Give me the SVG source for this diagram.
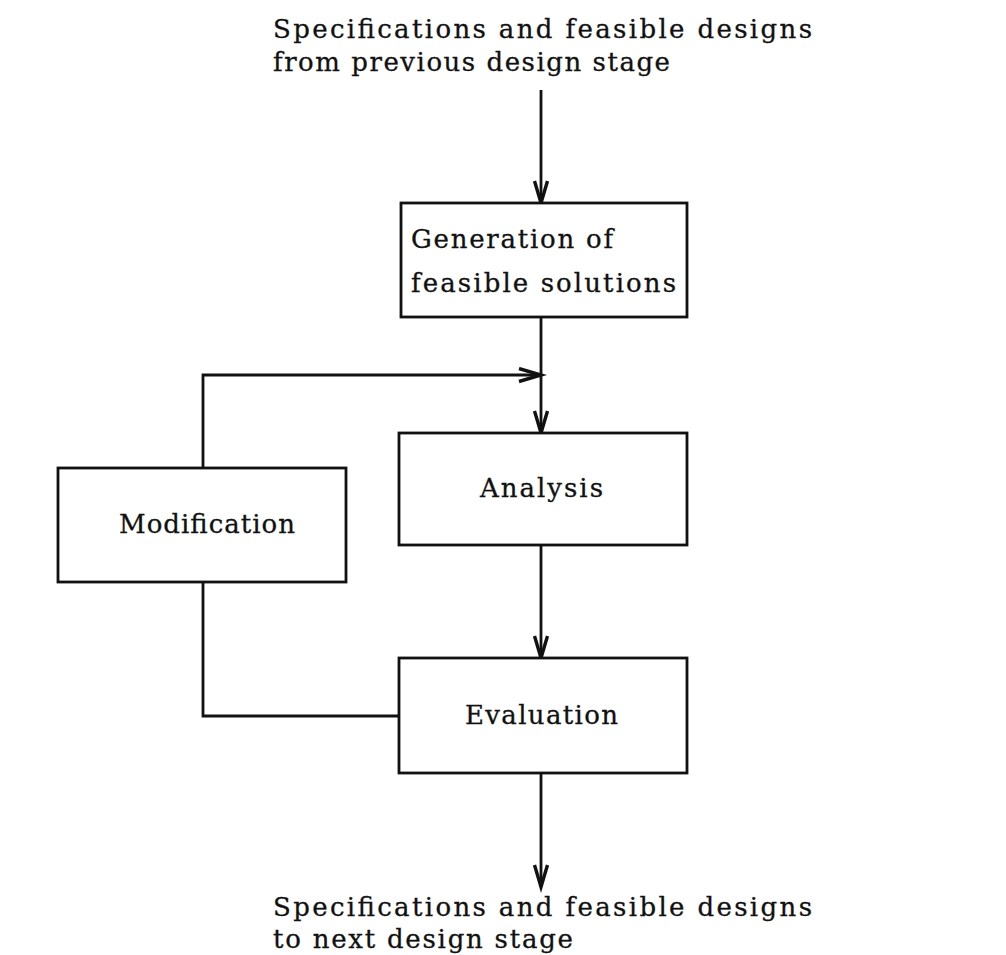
<svg xmlns="http://www.w3.org/2000/svg" width="1006" height="955" viewBox="0 0 1006 955">
  <style>
    .box { fill: #fff; stroke: #111; stroke-width: 2.8; }
    .wire { fill: none; stroke: #111; stroke-width: 2.8; }
    .lbl { font-family: "DejaVu Serif", "Liberation Serif", serif; font-size: 26px; fill: #111; stroke: #111; stroke-width: 0.3; }
  </style>
  <defs>
    <marker id="vhead" markerUnits="userSpaceOnUse" markerWidth="30" markerHeight="30" refX="23" refY="8" orient="auto">
      <path d="M1,1.5 L23,8 L1,14.5" fill="none" stroke="#111" stroke-width="3.4" stroke-linejoin="miter"/>
    </marker>
  </defs>
  <rect width="1006" height="955" fill="#fff"/>

  <!-- input / output captions -->
  <g id="input-label">
    <text class="lbl" x="273" y="38" textLength="539" lengthAdjust="spacing">Specifications and feasible designs</text>
    <text class="lbl" x="273" y="71" textLength="397" lengthAdjust="spacing">from previous design stage</text>
  </g>
  <g id="output-label">
    <text class="lbl" x="273" y="916" textLength="539" lengthAdjust="spacing">Specifications and feasible designs</text>
    <text class="lbl" x="273" y="948" textLength="300" lengthAdjust="spacing">to next design stage</text>
  </g>

  <!-- connectors -->
  <g id="connectors">
    <line class="wire" x1="541" y1="90" x2="541" y2="203" marker-end="url(#vhead)"/>
    <line class="wire" x1="541" y1="317" x2="541" y2="433" marker-end="url(#vhead)"/>
    <polyline class="wire" points="203,468 203,375 541,375" marker-end="url(#vhead)"/>
    <line class="wire" x1="541" y1="545" x2="541" y2="658" marker-end="url(#vhead)"/>
    <polyline class="wire" points="203,582 203,716 399,716"/>
    <line class="wire" x1="541" y1="773" x2="541" y2="887" marker-end="url(#vhead)"/>
  </g>

  <g id="generation">
    <rect class="box" x="401" y="203" width="286" height="114"/>
    <text class="lbl" x="411" y="248" textLength="202" lengthAdjust="spacing">Generation of</text>
    <text class="lbl" x="411" y="292" textLength="265" lengthAdjust="spacing">feasible solutions</text>
  </g>
  <g id="analysis">
    <rect class="box" x="399" y="433" width="288" height="112"/>
    <text class="lbl" x="480" y="497" textLength="123" lengthAdjust="spacing">Analysis</text>
  </g>
  <g id="modification">
    <rect class="box" x="58" y="468" width="288" height="114"/>
    <text class="lbl" x="119" y="533" textLength="176" lengthAdjust="spacing">Modification</text>
  </g>
  <g id="evaluation">
    <rect class="box" x="399" y="658" width="288" height="115"/>
    <text class="lbl" x="465" y="724" textLength="153" lengthAdjust="spacing">Evaluation</text>
  </g>
</svg>
